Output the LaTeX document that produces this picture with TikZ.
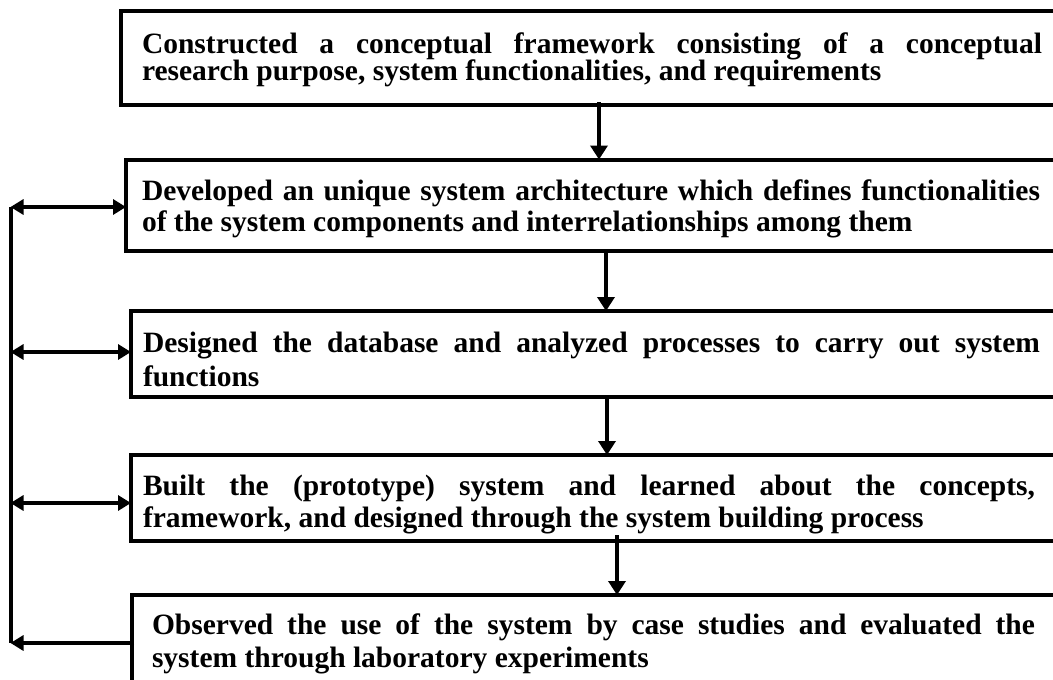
\documentclass[tikz,border=0pt]{standalone}
\usepackage{fontspec}
\setmainfont{Liberation Serif}
\usetikzlibrary{arrows.meta}
\begin{document}
\begin{tikzpicture}[x=1pt,y=-1pt,
  box/.style={draw, line width=4pt, anchor=north west, outer sep=0pt, minimum width=1000pt},
  txt/.style={anchor=base west, inner sep=0pt, outer sep=0pt, align=justify},
  lw/.style={line width=4pt},
  arr/.style={line width=4pt, -{Triangle[length=14pt,width=17pt]}},
  harr/.style={line width=4pt, -{Triangle[length=13pt,width=15pt]}},
  dbl/.style={line width=4pt, {Triangle[length=13pt,width=15pt]}-{Triangle[length=13pt,width=15pt]}}
]
\path[use as bounding box] (0,0) rectangle (1053,680);
\clip (0,0) rectangle (1053,680);

% boxes
\node[box, minimum height=94pt] (b1) at (121,11) {};
\node[box, minimum height=91pt] (b2) at (126,159.5) {};
\node[box, minimum height=86pt] (b3) at (131,311) {};
\node[box, minimum height=86pt] (b4) at (131,455) {};
\node[box, minimum height=100pt] (b5) at (132,595) {};

% texts
\node[txt, text width=900pt, font=\bfseries\fontsize{29.5}{27.5}\selectfont] (t1)
  at ([shift={(21,42)}]b1.north west)
  {Constructed a conceptual framework consisting of a conceptual\linebreak research purpose, system functionalities, and requirements};
\node[txt, text width=898pt, font=\bfseries\fontsize{29.5}{31}\selectfont] (t2)
  at ([shift={(16,41)}]b2.north west)
  {Developed an unique system architecture which defines functionalities\linebreak of the system components and interrelationships among them};
\node[txt, text width=897pt, font=\bfseries\fontsize{29.5}{34}\selectfont] (t3)
  at ([shift={(12,41)}]b3.north west)
  {Designed the database and analyzed processes to carry out system\linebreak functions};
\node[txt, text width=892pt, font=\bfseries\fontsize{29.5}{32}\selectfont] (t4)
  at ([shift={(12,40)}]b4.north west)
  {Built the (prototype) system and learned about the concepts,\linebreak framework, and designed through the system building process};
\node[txt, text width=883pt, font=\bfseries\fontsize{29.5}{33}\selectfont] (t5)
  at ([shift={(20,39)}]b5.north west)
  {Observed the use of the system by case studies and evaluated the\linebreak system through laboratory experiments};

% vertical flow arrows
\draw[arr] ([xshift=478pt,yshift=3pt]b1.south west) -- ([xshift=473pt]b2.north west);
\draw[arr] ([xshift=480pt]b2.south west) -- ([xshift=475pt]b3.north west);
\draw[arr] ([xshift=476pt,yshift=2pt]b3.south west) -- ([xshift=476pt]b4.north west);
\draw[arr] ([xshift=486pt,yshift=6pt]b4.south west) -- ([xshift=485pt]b5.north west);

% feedback bracket
\coordinate (a2) at (10.5,207);
\coordinate (a3) at (10.5,352);
\coordinate (a4) at (10.5,503);
\coordinate (a5) at (10.5,643);
\draw[lw] (a2) -- (a5);
\draw[dbl] (a2) -- (a2 -| b2.west);
\draw[dbl] (a3) -- (a3 -| b3.west);
\draw[dbl] (a4) -- (a4 -| b4.west);
\draw[harr] ([xshift=2pt]a5 -| b5.west) -- (a5);
\end{tikzpicture}
\end{document}
